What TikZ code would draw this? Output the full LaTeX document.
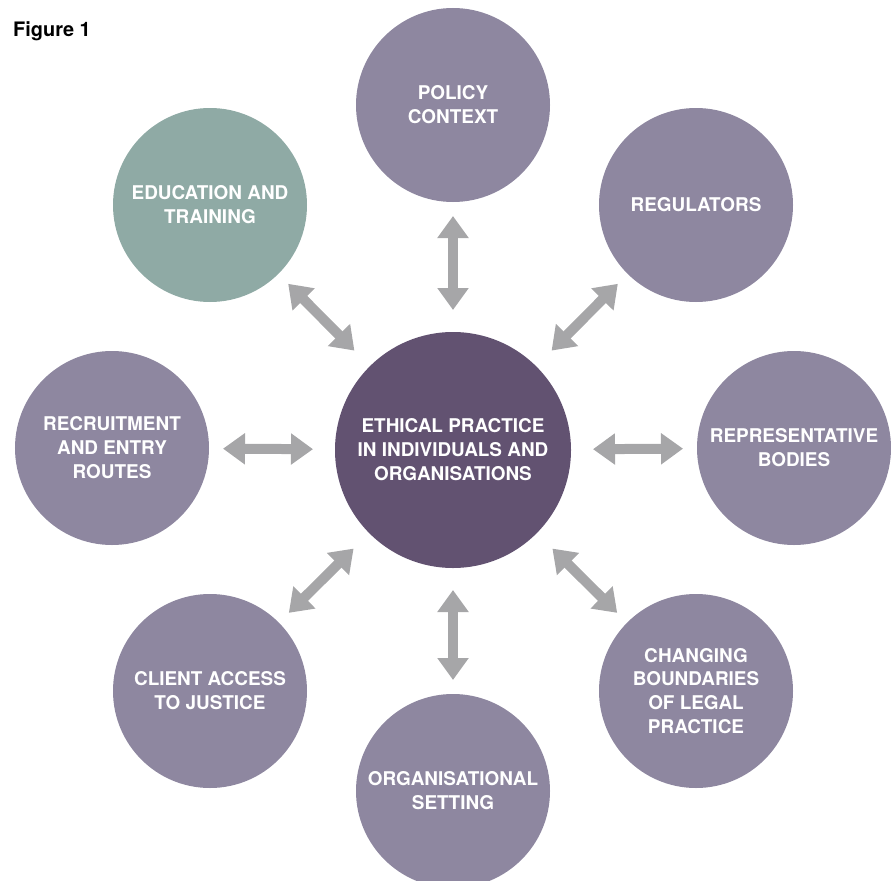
\documentclass[tikz,border=0pt]{standalone}
\usepackage{fontspec}
\setmainfont{TeX Gyre Heros}
\usetikzlibrary{arrows.meta}
\definecolor{outerpurple}{HTML}{8E87A0}
\definecolor{outerteal}{HTML}{8FAAA5}
\definecolor{innerpurple}{HTML}{625271}
\definecolor{arrowgrey}{HTML}{A6A6A8}
\tikzset{%
  topic/.style={circle, fill=outerpurple, minimum size=194bp, inner sep=0mm,
    outer sep=0mm, align=center, text=white,
    font=\fontsize{19}{24}\selectfont\bfseries},
  core/.style={topic, fill=innerpurple, minimum size=236bp},
  link/.style={line width=10bp, draw=arrowgrey,
    {Triangle[width=30bp,length=22bp]}-{Triangle[width=30bp,length=22bp]},
    shorten <=22bp, shorten >=14bp},
}

\begin{document}
\begin{tikzpicture}[x=1bp, y=-1bp]
  \useasboundingbox (0,0) rectangle (891,881);
  \node[anchor=base west, inner sep=0mm, font=\fontsize{20}{24}\selectfont\bfseries]
    (title) at (13,36) {Figure 1};
  % centre
  \node[core] (ethics) at (453,450)
    {ETHICAL PRACTICE\\IN INDIVIDUALS AND\\ORGANISATIONS};
  % ring of topics
  \node[topic] (policy) at (453,105) {POLICY\\CONTEXT};
  \node[topic] (regulators) at (696,205) {REGULATORS};
  \node[topic] (bodies) at (794,448) {REPRESENTATIVE\\BODIES};
  \node[topic] (boundaries) at (696,691)
    {CHANGING\\BOUNDARIES\\OF LEGAL\\PRACTICE};
  \node[topic] (setting) at (453,791) {ORGANISATIONAL\\SETTING};
  \node[topic] (access) at (210,691) {CLIENT ACCESS\\TO JUSTICE};
  \node[topic] (recruitment) at (112,448)
    {RECRUITMENT\\AND ENTRY\\ROUTES};
  \node[topic, fill=outerteal] (education) at (210,205)
    {EDUCATION AND\\TRAINING};
  \foreach \n in {policy, regulators, bodies, boundaries, setting, access,
    recruitment, education}
    \draw[link] (ethics) -- (\n);
\end{tikzpicture}
\end{document}
